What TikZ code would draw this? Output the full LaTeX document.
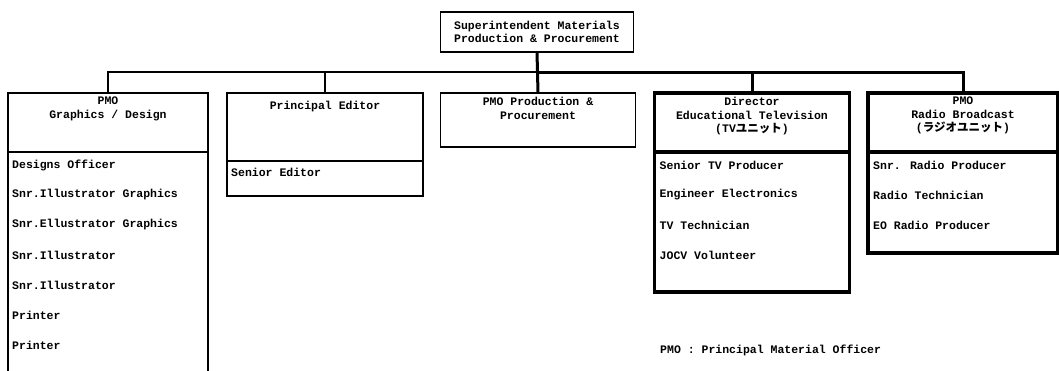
\documentclass[tikz,border=0pt]{standalone}
\usepackage{fontspec}
\setmainfont{Liberation Mono}
\newfontfamily\jpfont{Noto Sans CJK JP}
\usetikzlibrary{positioning}
\tikzset{
  unit/.style={draw, line width=1.3pt, inner sep=0pt, outer sep=0pt, anchor=north},
  unitb/.style={unit, line width=3.4pt},
  htxt/.style={align=center, anchor=north, inner sep=0pt},
  item/.style={anchor=west, inner sep=0pt},
  wire/.style={line width=1.3pt},
  wireb/.style={line width=3pt},
}
\begin{document}
\begin{tikzpicture}[x=1pt, y=-1pt, node distance=0pt,
    every node/.style={font=\fontsize{11.5}{13.5}\selectfont\bfseries}]
  \useasboundingbox (0,0) rectangle (1059,370);
  % top of the chart
  \node[unit, line width=1.8pt, minimum width=193pt, minimum height=40pt] (sup) at (537,12) {};
  \node[align=left, inner sep=0pt] (supt) at (sup) {Superintendent Materials\\Production \& Procurement};

  % header boxes
  \node[unit, minimum width=200pt, minimum height=59pt] (gd) at (108,93) {};
  \node[unit, minimum width=196pt, minimum height=68pt] (ed) at (325,93) {};
  \node[unit, minimum width=195pt, minimum height=54pt] (pp) at (538,93) {};
  \node[unitb, minimum width=195pt, minimum height=59pt] (tv) at (752,93) {};
  \node[unitb, minimum width=190pt, minimum height=59pt] (rb) at (963,93) {};

  \node[htxt, below=4pt of gd.north] (gdt) {PMO\\Graphics / Design};
  \node[htxt, below=8pt of ed.north] (edt) {Principal Editor};
  \node[htxt, below=4pt of pp.north] (ppt) {PMO Production \&\\Procurement};
  \node[htxt, below=4pt of tv.north] (tvt) {Director\\Educational Television\\(TV{\jpfont ユニット})};
  \node[htxt, below=4pt of rb.north] (rbt) {PMO\\Radio Broadcast\\({\jpfont ラジオユニット})};

  % staff lists
  \node[unit, minimum width=200pt, minimum height=240pt, below=of gd] (gdb) {};
  \node[unit, minimum width=196pt, minimum height=35pt, below=of ed] (edb) {};
  \node[unitb, minimum width=195pt, minimum height=140pt, below=of tv] (tvb) {};
  \node[unitb, minimum width=190pt, minimum height=101pt, below=of rb] (rbb) {};

  \foreach \t [count=\i] in {Designs Officer, Snr.Illustrator Graphics, Snr.Ellustrator Graphics,
      Snr.Illustrator, Snr.Illustrator, Printer, Printer}
    \node[item] (gd\i) at ([xshift=4pt, yshift={-(30*\i-17)*1pt}]gdb.north west) {\t};
  \node[item] (ed1) at ([xshift=4pt, yshift=-11pt]edb.north west) {Senior Editor};
  \foreach \t [count=\i] in {Senior TV Producer, Engineer Electronics, TV Technician, JOCV Volunteer}
    \node[item] (tv\i) at ([xshift=5pt, yshift={-(30*\i-17)*1pt}]tvb.north west) {\t};
  \foreach \t [count=\i] in {Snr. Radio Producer, Radio Technician, EO Radio Producer}
    \node[item] (rb\i) at ([xshift=5pt, yshift={-(30*\i-17)*1pt}]rbb.north west) {\t};

  \node[anchor=west, inner sep=0pt] (key) at (660,350) {PMO : Principal Material Officer};

  % lines
  \coordinate (bus) at (538,72);
  \draw[wire] (gd.north) -- (gd.north |- bus) -- (bus);
  \draw[wire] (ed.north) -- (ed.north |- bus);
  \draw[wireb] (sup.south) -- (pp.north);
  \draw[wireb] (bus) -- (bus -| rb.north) -- (rb.north);
  \draw[wireb] (tv.north) -- (tv.north |- bus);
\end{tikzpicture}
\end{document}
